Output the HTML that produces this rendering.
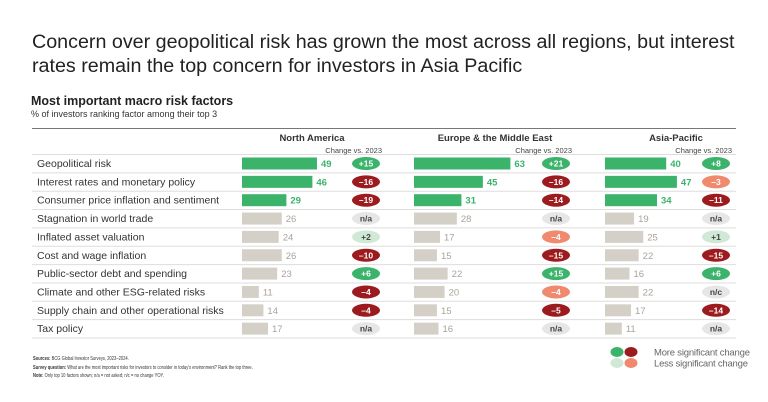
<!DOCTYPE html>
<html><head><meta charset="utf-8">
<style>
body{margin:0;width:768px;height:402px;background:#fff;font-family:"Liberation Sans",sans-serif;overflow:hidden;position:relative}
.t{position:absolute;white-space:nowrap}
</style></head><body>
<div class="t" style="left:32px;top:30px;font-size:19.7px;line-height:24px;color:#222">Concern over geopolitical risk has grown the most across all regions, but interest<br>rates remain the top concern for investors in Asia Pacific</div>
<div class="t" style="left:31px;top:94px;font-size:12.5px;font-weight:bold;color:#222">Most important macro risk factors</div>
<div class="t" style="left:31px;top:109px;font-size:9px;color:#333">% of investors ranking factor among their top 3</div>
<svg id="chart" width="768" height="402" style="position:absolute;left:0;top:0"></svg>
<div class="t" style="left:33px;top:355px;font-size:5.6px;line-height:8.5px;color:#333;transform:scaleX(0.73);transform-origin:0 0"><b>Sources:</b> BCG Global Investor Surveys, 2023–2024.<br><b>Survey question:</b> What are the most important risks for investors to consider in today's environment? Rank the top three.<br><b>Note:</b> Only top 10 factors shown; n/a = not asked; n/c = no change YOY.</div>
<script>
const factors=["Geopolitical risk","Interest rates and monetary policy","Consumer price inflation and sentiment","Stagnation in world trade","Inflated asset valuation","Cost and wage inflation","Public-sector debt and spending","Climate and other ESG-related risks","Supply chain and other operational risks","Tax policy"];
const regions=["North America","Europe & the Middle East","Asia-Pacific"];
const naValues=[49,46,29,26,24,26,23,11,14,17];
const euValues=[63,45,31,28,17,15,22,20,15,16];
const apValues=[40,47,34,19,25,22,16,22,17,11];
const naChange=["+15","–16","–19","n/a","+2","–10","+6","–4","–4","n/a"];
const euChange=["+21","–16","–14","n/a","–4","–15","+15","–4","–5","n/a"];
const apChange=["+8","–3","–11","n/a","+1","–15","+6","n/c","–14","n/a"];
const naKind=["g","dr","dr","na","lg","dr","g","dr","dr","na"];
const euKind=["g","dr","dr","na","lr","dr","g","lr","dr","na"];
const apKind=["g","lr","dr","na","lg","dr","g","na","dr","na"];
const svg=document.getElementById('chart');const NS="http://www.w3.org/2000/svg";
function mk(t,a,txt){const e=document.createElementNS(NS,t);for(const k in a)e.setAttribute(k,a[k]);if(txt!==undefined)e.textContent=txt;svg.appendChild(e);return e;}
const y0=154,rowH=18.35,sc=1.53;
const rowY=i=>y0+i*rowH;
const kc={g:["#3bb36b","#fff"],dr:["#9c1b1e","#fff"],lg:["#cfe9d6","#444"],lr:["#ef8a6f","#fff"],na:["#e6e6e6","#444"]};
let l=mk('line',{x1:32,x2:736,y1:128.5,y2:128.5,stroke:"#777","stroke-width":1});

for(let i=0;i<=10;i++){const ln=mk('line',{x1:32,x2:736,y1:rowY(i)+0.5,y2:rowY(i)+0.5,stroke:"#ddd","stroke-width":1});
}
factors.forEach((f,i)=>{const t=mk('text',{x:37,y:rowY(i)+13,"font-size":10.5,fill:"#333"},f);
});
const cols=[{x:242,pill:366,hc:312,v:naValues,c:naChange,k:naKind},{x:414,pill:556,hc:495,v:euValues,c:euChange,k:euKind},{x:605,pill:716,hc:676,v:apValues,c:apChange,k:apKind}];
cols.forEach((c,ci)=>{
const h=mk('text',{x:c.hc,y:141,"font-size":9.5,"font-weight":"bold",fill:"#333","text-anchor":"middle"},regions[ci]);

const ch=mk('text',{x:c.pill+16,y:153,"font-size":7.5,fill:"#444","text-anchor":"end"},"Change vs. 2023");

c.v.forEach((v,i)=>{const top=i<3;const w=v*sc;
const b=mk('rect',{x:c.x,y:rowY(i)+3.5,width:w,height:12,fill:top?"#3bb36b":"#d5d0c7"});

const vt=mk('text',{x:c.x+w+4,y:rowY(i)+13,"font-size":9.5,fill:top?"#3bb36b":"#aaa399","font-weight":top?"bold":"normal"},v);

const col=kc[c.k[i]];
const p=mk('ellipse',{cx:c.pill,cy:rowY(i)+9.5,rx:14,ry:6.5,fill:col[0]});

const pt=mk('text',{x:c.pill,y:rowY(i)+12.5,"font-size":8.5,fill:col[1],"text-anchor":"middle","font-weight":"bold"},c.c[i]);

});});
const leg=[[617,352,"#3bb36b"],[631,352,"#9c1b1e"],[617,363,"#cfe9d6"],[631,363,"#ef8a6f"]];
leg.forEach(a=>{const e=mk('ellipse',{cx:a[0],cy:a[1],rx:6.5,ry:5,fill:a[2]});
});
let lt=mk('text',{x:654,y:355.5,"font-size":9.5,fill:"#666",textLength:96},"More significant change");

lt=mk('text',{x:654,y:366.5,"font-size":9.5,fill:"#666",textLength:94},"Less significant change");

</script>
</body></html>
